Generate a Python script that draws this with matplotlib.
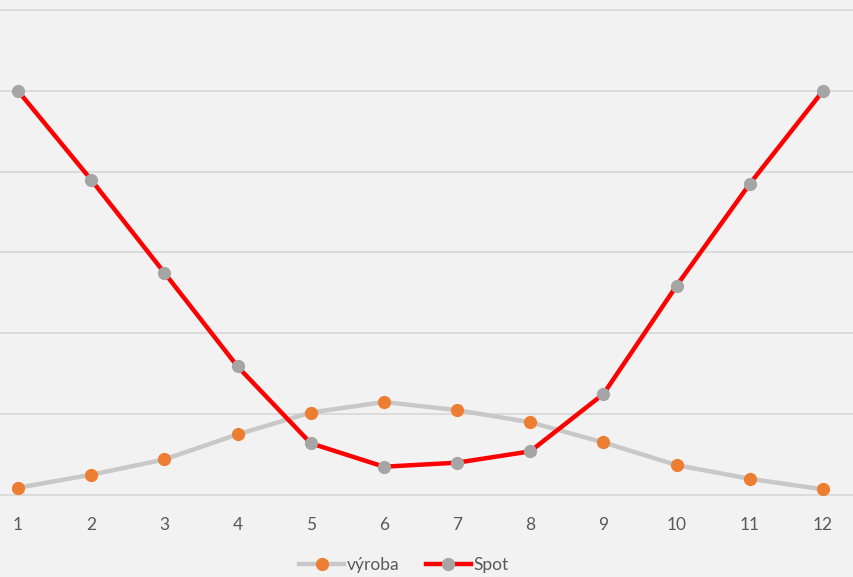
import matplotlib
matplotlib.use("Agg")
import matplotlib.pyplot as plt
from matplotlib.lines import Line2D

months = [1, 2, 3, 4, 5, 6, 7, 8, 9, 10, 11, 12]
vyroba = [0.09, 0.25, 0.44, 0.75, 1.02, 1.15, 1.05, 0.90, 0.65, 0.37, 0.20, 0.07]
spot = [5.00, 3.90, 2.75, 1.59, 0.64, 0.35, 0.40, 0.54, 1.25, 2.59, 3.85, 5.00]
grid_levels = [0, 1, 2, 3, 4, 5, 6]

bg = "#f2f2f2"
font = ["Lato", "DejaVu Sans"]
fig = plt.figure(figsize=(8.54, 5.77), dpi=100, facecolor=bg)
ax = fig.add_axes([0, 77 / 577, 1, 495 / 577], facecolor=bg)

ax.set_xlim(1 - 18 / 73.2, 12 + 31 / 73.2)
ax.set_ylim(-5 / 80.83, 6 + 5 / 80.83)

for lv in grid_levels:
    ax.axhline(lv, color="#d9d9d9", lw=1.3, zorder=0)

ax.plot(months, vyroba, color="#c8c8c8", lw=3.2, marker="o", ms=8.5,
        mfc="#ed7d31", mec="#ed7d31", zorder=2, solid_capstyle="round")
ax.plot(months, spot, color="#ff0000", lw=3.2, marker="o", ms=8.5,
        mfc="#a5a5a5", mec="#a5a5a5", zorder=3, solid_capstyle="round")

for s in ax.spines.values():
    s.set_visible(False)
ax.set_yticks([])
ax.set_xticks(months)
ax.set_xticklabels([str(m) for m in months], fontsize=12.5, color="#595959",
                   family=font)
ax.tick_params(axis="x", length=0, pad=12)

handles = [
    Line2D([], [], color="#c8c8c8", lw=3.2, marker="o", ms=8.5,
           mfc="#ed7d31", mec="#ed7d31"),
    Line2D([], [], color="#ff0000", lw=3.2, marker="o", ms=8.5,
           mfc="#a5a5a5", mec="#a5a5a5"),
]
fig.legend(handles, ["výroba", "Spot"], loc="center", bbox_to_anchor=(0.473, 1 - 565 / 577),
           ncol=2, frameon=False, handlelength=2.6, handletextpad=0.15,
           columnspacing=1.5, prop={"family": font, "size": 12.5},
           labelcolor="#595959")

fig.savefig("out.png", dpi=100, facecolor=bg)
